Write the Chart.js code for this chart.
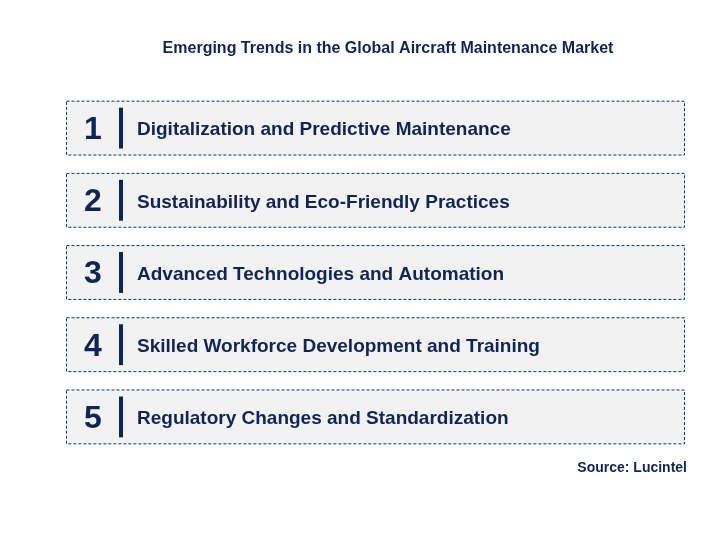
<!DOCTYPE html>
<html>
<head>
<meta charset="utf-8">
<script src="https://cdn.jsdelivr.net/npm/chart.js@4"></script>
<style>
  body { margin: 0; background: #fff; }
</style>
</head>
<body>
<canvas id="trendChart" width="712" height="541"></canvas>
<script>
const trendNumbers = ['1', '2', '3', '4', '5'];
const trendLabels = [
    'Digitalization and Predictive Maintenance',
    'Sustainability and Eco-Friendly Practices',
    'Advanced Technologies and Automation',
    'Skilled Workforce Development and Training',
    'Regulatory Changes and Standardization'
];
const boxSpans = [[0, 1], [0, 1], [0, 1], [0, 1], [0, 1]];
const titleText = 'Emerging Trends in the Global Aircraft Maintenance Market';
const sourceText = 'Source: Lucintel';

const navy = '#0f2457';
const borderNavy = '#1f3366';

// draws the dashed borders, numbers and labels on top of each bar
const trendBoxPlugin = {
    id: 'trendBoxes',
    afterDatasetsDraw(chart) {
        const ctx = chart.ctx;
        const meta = chart.getDatasetMeta(0);
        ctx.save();
        meta.data.forEach((bar, i) => {
            const left = bar.base, right = bar.x;
            const top = bar.y - bar.height / 2, bottom = bar.y + bar.height / 2;
            ctx.setLineDash([3, 2]);
            ctx.lineWidth = 1;
            ctx.strokeStyle = borderNavy;
            ctx.strokeRect(left + 0.5, top + 0.5, right - left - 1, bottom - top - 1);
            ctx.setLineDash([]);

            ctx.fillStyle = navy;
            ctx.textBaseline = 'middle';
            ctx.textAlign = 'center';
            ctx.font = 'bold 32px "Liberation Sans", Arial, sans-serif';
            ctx.fillText(trendNumbers[i], left + 27, bar.y + 2);

            ctx.fillRect(left + 53, top + 7, 4, bottom - top - 14);

            ctx.textAlign = 'left';
            ctx.font = 'bold 19px "Liberation Sans", Arial, sans-serif';
            ctx.fillText(trendLabels[i], left + 71, bar.y + 2);
        });

        ctx.textAlign = 'center';
        ctx.font = 'bold 16px "Liberation Sans", Arial, sans-serif';
        ctx.fillText(titleText, 388, 49);
        ctx.textAlign = 'right';
        ctx.font = 'bold 14px "Liberation Sans", Arial, sans-serif';
        ctx.fillText(sourceText, 687, 468);
        ctx.restore();
    }
};

new Chart(document.getElementById('trendChart').getContext('2d'), {
    type: 'bar',
    plugins: [trendBoxPlugin],
    data: {
        labels: trendLabels,
        datasets: [{
            data: boxSpans,
            backgroundColor: '#f2f2f2',
            borderWidth: 0,
            barPercentage: 0.76,
            categoryPercentage: 1.0
        }]
    },
    options: {
        indexAxis: 'y',
        responsive: false,
        animation: false,
        layout: { padding: { left: 66, right: 27, top: 92, bottom: 88 } },
        plugins: {
            legend: { display: false },
            tooltip: { enabled: false },
            title: { display: false }
        },
        scales: {
            x: { display: false, min: 0, max: 1 },
            y: { display: false }
        }
    }
});
</script>
</body>
</html>
